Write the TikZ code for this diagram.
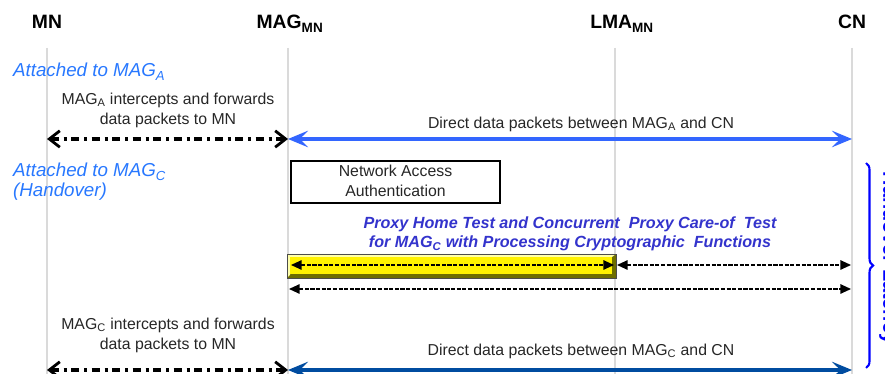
\documentclass[tikz,border=0pt]{standalone}
\usepackage{fontspec}
\setmainfont{Liberation Sans}
\usetikzlibrary{arrows.meta,decorations.pathreplacing}
\definecolor{lblue}{RGB}{40,120,255}
\definecolor{ablue}{RGB}{51,102,255}
\definecolor{dblue}{RGB}{0,76,160}
\definecolor{pblue}{RGB}{51,51,204}
\definecolor{bblue}{RGB}{0,0,255}
\definecolor{lgray}{RGB}{218,218,218}
\definecolor{olive}{RGB}{110,110,0}
\definecolor{ylight}{RGB}{255,255,170}
\tikzset{
  lifeline/.style={draw=lgray,line width=2.4pt},
  header/.style={font=\fontsize{16.5}{18}\selectfont\bfseries,anchor=base},
  phase/.style={font=\fontsize{16}{19}\selectfont\itshape,text=lblue,anchor=base west},
  msg/.style={font=\fontsize{13.5}{17}\selectfont,text=black!85,align=center},
  dashdot/.style={line width=2.6pt,dash pattern=on 7pt off 4pt on 2.5pt off 4pt,{Straight Barb[length=9pt,width=14pt,line width=2.4pt]}-{Straight Barb[length=9pt,width=14pt,line width=2.4pt]}},
  bigarrow/.style={line width=3pt,{Stealth[length=17pt,width=14pt,inset=7pt]}-{Stealth[length=17pt,width=14pt,inset=7pt]}},
  dasharrow/.style={line width=1.2pt,dash pattern=on 3.5pt off 1.3pt,{Triangle[length=9pt,width=8pt]}-{Triangle[length=9pt,width=8pt]}},
  proxytext/.style={font=\fontsize{13.8}{16.5}\selectfont\bfseries\itshape,text=pblue,align=center},
}
\begin{document}
\begin{tikzpicture}[x=0.03cm,y=-0.03cm]
\useasboundingbox (0,0) rectangle (885,374);
\clip (0,0) rectangle (885,374);
% lifelines
\coordinate (mnT) at (47,48);   \coordinate (mnB) at (47,374);
\coordinate (magT) at (288,48); \coordinate (magB) at (288,374);
\coordinate (lmaT) at (615,48); \coordinate (lmaB) at (615,374);
\coordinate (cnT) at (852,48);  \coordinate (cnB) at (852,374);
\draw[lifeline] (mnT) -- (mnB);
\draw[lifeline] (magT) -- (magB);
\draw[lifeline] (lmaT) -- (lmaB);
\draw[lifeline] (cnT) -- (cnB);
% headers
\node[header] (hmn) at (47,29) {MN};
\node[header] (hmag) at (290,29) {MAG\textsubscript{MN}};
\node[header] (hlma) at (622,29) {LMA\textsubscript{MN}};
\node[header] (hcn) at (852,29) {CN};
% phase 1
\node[phase] (pa) at (9,77) {Attached to MAG\textsubscript{A}};
\node[msg] (ma) at (168,110) {MAG\textsubscript{A} intercepts and forwards\\data packets to MN};
\coordinate (a1) at (47,139); \coordinate (a2) at (288,139); \coordinate (a3) at (852,139);
\draw[dashdot] (a1) -- (a2);
\draw[bigarrow,draw=ablue,color=ablue] (a2) -- (a3);
\node[msg] (da) at (581,124) {Direct data packets between MAG\textsubscript{A} and CN};
% phase 2
\node[phase] (pc) at (9,177) {Attached to MAG\textsubscript{C}};
\node[phase] (ph) at (9,197) {(Handover)};
\coordinate (n1) at (291,161); \coordinate (n2) at (500,203);
\draw[line width=1.3pt] (n1) rectangle (n2);
\node[msg] (naa) at (395.5,181) {Network Access\\Authentication};
\node[proxytext] (pt) at (570,234) {Proxy Home Test and Concurrent\ \ Proxy Care-of\ \ Test\\for MAG\textsubscript{C} with Processing Cryptographic\ \ Functions};
% yellow bevel box
\coordinate (y1) at (287,254); \coordinate (y2) at (616,278);
\fill[olive] (y1) rectangle (y2);
\fill[ylight] (287,254) -- (616,254) -- (612,257) -- (290,257) -- (290,275) -- (287,278) -- cycle;
\fill[yellow] (290,257) rectangle (612,274);
\draw[black!70,line width=0.6pt] (y1) rectangle (y2);
\coordinate (p1) at (291,265); \coordinate (p2) at (614,265);
\coordinate (p3) at (617,265); \coordinate (p4) at (851,265);
\coordinate (q1) at (289,289); \coordinate (q2) at (851,289);
\draw[dasharrow] (p1) -- (p2);
\draw[dasharrow] (p3) -- (p4);
\draw[dasharrow] (q1) -- (q2);
% phase 3
\node[msg] (mc) at (168,335) {MAG\textsubscript{C} intercepts and forwards\\data packets to MN};
\coordinate (c1) at (47,370); \coordinate (c2) at (288,370); \coordinate (c3) at (852,370);
\draw[dashdot] (c1) -- (c2);
\draw[bigarrow,draw=dblue,color=dblue] (c2) -- (c3);
\node[msg] (dc) at (581,351) {Direct data packets between MAG\textsubscript{C} and CN};
% brace
\coordinate (b1) at (866,163); \coordinate (b2) at (866,368);
\draw[bblue,line width=1.8pt,decorate,decoration={brace,amplitude=6pt,mirror}] (b2) -- (b1);
\node[font=\fontsize{17}{19}\selectfont\bfseries,text=bblue,rotate=-90,anchor=south,inner sep=0pt] (hl) at (879,258) {Handover Latency};
\end{tikzpicture}
\end{document}
